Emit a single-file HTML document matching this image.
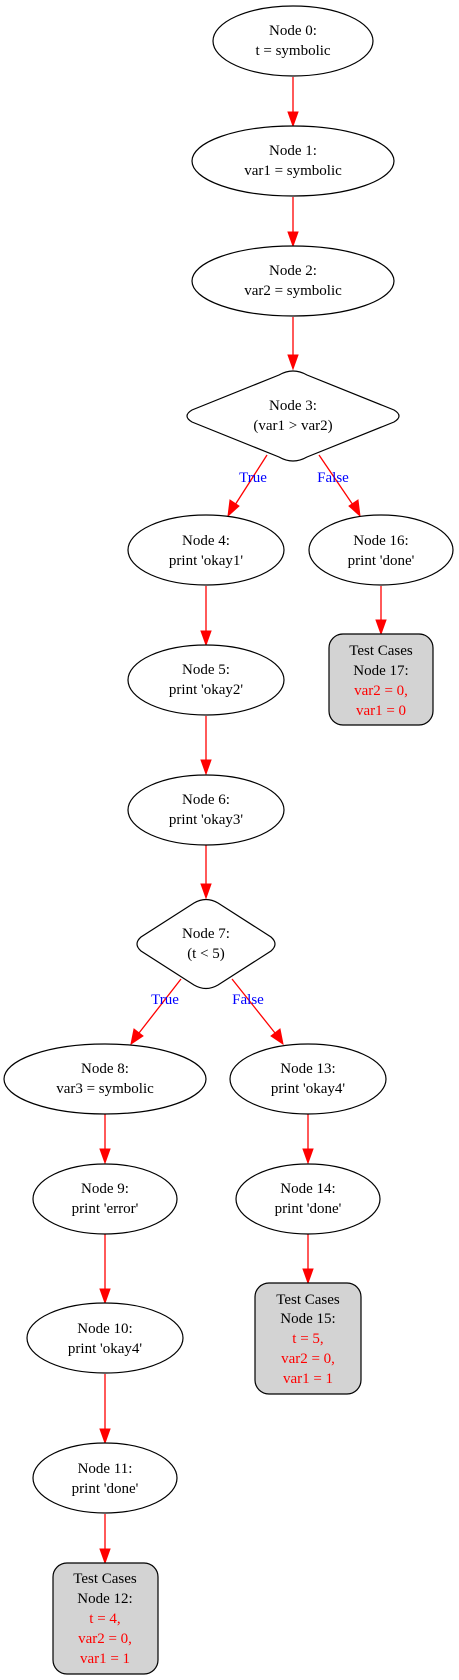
<!DOCTYPE html>
<html><head><meta charset="utf-8"><style>
html,body{margin:0;padding:0;background:#fff;}
svg{display:block;}
text{font-family:"Liberation Serif",serif;font-size:15px;text-anchor:middle;}
.n{fill:#fff;stroke:#000;stroke-width:1.2;}
.t{fill:#d3d3d3;stroke:#000;stroke-width:1.2;}
.e{stroke:#f00;stroke-width:1.3;fill:none;}
.a{fill:#f00;stroke:#f00;}
.r{fill:#f00;}
.b{fill:#00f;}
</style></head><body>
<svg width="459" height="1680" viewBox="0 0 459 1680" xmlns="http://www.w3.org/2000/svg">
<!-- edges -->
<g>
<line class="e" x1="293" y1="77" x2="293" y2="113"/><polygon class="a" points="288,112 298,112 293,126"/>
<line class="e" x1="293" y1="197" x2="293" y2="233"/><polygon class="a" points="288,232 298,232 293,246"/>
<line class="e" x1="293" y1="317" x2="293" y2="356"/><polygon class="a" points="288,355 298,355 293,369"/>
<line class="e" x1="267" y1="455" x2="235" y2="505"/><polygon class="a" points="230,500 239,506 228,516"/>
<line class="e" x1="319" y1="455" x2="353" y2="505"/><polygon class="a" points="349,506 358,500 360,516"/>
<line class="e" x1="206" y1="586" x2="206" y2="632"/><polygon class="a" points="201,631 211,631 206,645"/>
<line class="e" x1="206" y1="716" x2="206" y2="761"/><polygon class="a" points="201,760 211,760 206,774"/>
<line class="e" x1="206" y1="845" x2="206" y2="885"/><polygon class="a" points="201,884 211,884 206,898"/>
<line class="e" x1="181" y1="979" x2="139" y2="1033"/><polygon class="a" points="134,1029 143,1036 131,1044"/>
<line class="e" x1="232" y1="979" x2="275" y2="1033"/><polygon class="a" points="271,1036 280,1029 283,1044"/>
<line class="e" x1="105" y1="1114" x2="105" y2="1150"/><polygon class="a" points="100,1149 110,1149 105,1163"/>
<line class="e" x1="105" y1="1234" x2="105" y2="1290"/><polygon class="a" points="100,1289 110,1289 105,1303"/>
<line class="e" x1="105" y1="1374" x2="105" y2="1430"/><polygon class="a" points="100,1429 110,1429 105,1443"/>
<line class="e" x1="105" y1="1514" x2="105" y2="1550"/><polygon class="a" points="100,1549 110,1549 105,1563"/>
<line class="e" x1="308" y1="1114" x2="308" y2="1150"/><polygon class="a" points="303,1149 313,1149 308,1163"/>
<line class="e" x1="308" y1="1234" x2="308" y2="1270"/><polygon class="a" points="303,1269 313,1269 308,1283"/>
<line class="e" x1="381" y1="586" x2="381" y2="621"/><polygon class="a" points="376,620 386,620 381,634"/>
</g>
<text class="b" x="253" y="482">True</text>
<text class="b" x="333" y="482">False</text>
<text class="b" x="165" y="1004">True</text>
<text class="b" x="248" y="1004">False</text>
<!-- nodes -->
<ellipse class="n" cx="293" cy="41" rx="80" ry="35"/>
<text x="293" y="35">Node 0:</text><text x="293" y="55">t = symbolic</text>
<ellipse class="n" cx="293" cy="161" rx="101" ry="35"/>
<text x="293" y="155">Node 1:</text><text x="293" y="175">var1 = symbolic</text>
<ellipse class="n" cx="293" cy="281" rx="101" ry="35"/>
<text x="293" y="275">Node 2:</text><text x="293" y="295">var2 = symbolic</text>
<path class="n" d="M279,375 Q293,367 307,375 L394,410 Q404,416 394,422 L307,457 Q293,465 279,457 L192,422 Q182,416 192,410 Z"/>
<text x="293" y="410">Node 3:</text><text x="293" y="430">(var1 &gt; var2)</text>
<ellipse class="n" cx="206" cy="550" rx="78" ry="35"/>
<text x="206" y="545">Node 4:</text><text x="206" y="565">print 'okay1'</text>
<ellipse class="n" cx="381" cy="550" rx="72" ry="35"/>
<text x="381" y="545">Node 16:</text><text x="381" y="565">print 'done'</text>
<rect class="t" x="329" y="634" width="104" height="91" rx="14"/>
<text x="381" y="655">Test Cases</text><text x="381" y="675">Node 17:</text>
<text class="r" x="381" y="695">var2 = 0,</text><text class="r" x="381" y="715">var1 = 0</text>
<ellipse class="n" cx="206" cy="680" rx="78" ry="35"/>
<text x="206" y="674">Node 5:</text><text x="206" y="694">print 'okay2'</text>
<ellipse class="n" cx="206" cy="810" rx="78" ry="35"/>
<text x="206" y="804">Node 6:</text><text x="206" y="824">print 'okay3'</text>
<path class="n" d="M194,903 Q206,896 218,903 L271,937 Q279,944 271,951 L218,985 Q206,992 194,985 L141,951 Q133,944 141,937 Z"/>
<text x="206" y="938">Node 7:</text><text x="206" y="958">(t &lt; 5)</text>
<ellipse class="n" cx="105" cy="1079" rx="101" ry="35"/>
<text x="105" y="1073">Node 8:</text><text x="105" y="1093">var3 = symbolic</text>
<ellipse class="n" cx="308" cy="1079" rx="78" ry="35"/>
<text x="308" y="1073">Node 13:</text><text x="308" y="1093">print 'okay4'</text>
<ellipse class="n" cx="105" cy="1199" rx="72" ry="35"/>
<text x="105" y="1193">Node 9:</text><text x="105" y="1213">print 'error'</text>
<ellipse class="n" cx="308" cy="1199" rx="72" ry="35"/>
<text x="308" y="1193">Node 14:</text><text x="308" y="1213">print 'done'</text>
<rect class="t" x="255" y="1283" width="106" height="111" rx="14"/>
<text x="308" y="1304">Test Cases</text><text x="308" y="1323">Node 15:</text>
<text class="r" x="308" y="1343">t = 5,</text><text class="r" x="308" y="1363">var2 = 0,</text><text class="r" x="308" y="1383">var1 = 1</text>
<ellipse class="n" cx="105" cy="1338" rx="78" ry="35"/>
<text x="105" y="1333">Node 10:</text><text x="105" y="1353">print 'okay4'</text>
<ellipse class="n" cx="105" cy="1478" rx="72" ry="35"/>
<text x="105" y="1473">Node 11:</text><text x="105" y="1493">print 'done'</text>
<rect class="t" x="53" y="1563" width="105" height="111" rx="14"/>
<text x="105" y="1583">Test Cases</text><text x="105" y="1603">Node 12:</text>
<text class="r" x="105" y="1623">t = 4,</text><text class="r" x="105" y="1643">var2 = 0,</text><text class="r" x="105" y="1663">var1 = 1</text>
</svg>
</body></html>
